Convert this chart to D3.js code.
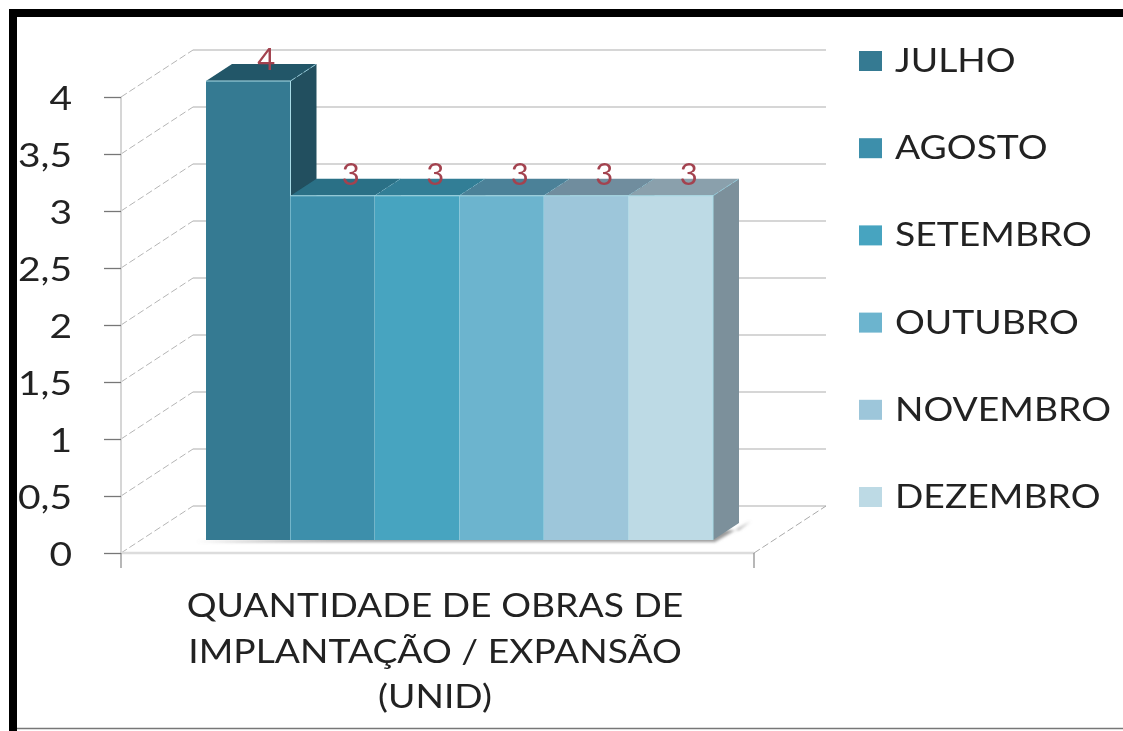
<!DOCTYPE html>
<html><head><meta charset="utf-8">
<script src="https://cdn.jsdelivr.net/npm/d3@7/dist/d3.min.js"></script>
<style>html,body{margin:0;padding:0;background:#fff}svg{display:block}text{font-family:Lato,"Open Sans",sans-serif;fill:#222}</style>
</head><body><svg id="c" width="1123" height="731"></svg>
<script>
const categories=["JULHO","AGOSTO","SETEMBRO","OUTUBRO","NOVEMBRO","DEZEMBRO"];
const values=[4,3,3,3,3,3];
const frontColors=["#357a92","#3e8fab","#46a4c0","#6cb4ce","#9dc6da","#bddae5"];
const topColors=["#225668","#2b6f86","#317e96","#4c8198","#6f8d9e","#8aa0ac"];
const sideColors=["#204f5e","#204f5e","#204f5e","#204f5e","#204f5e","#7b909b"];
const tickValues=[0,.5,1,1.5,2,2.5,3,3.5,4];
const xLabelLines=["QUANTIDADE DE OBRAS DE","IMPLANTAÇÃO / EXPANSÃO","(UNID)"];

const stretch=1.13; // the reference's lettering is horizontally stretched
const svg=d3.select("#c");
const defs=svg.append("defs");
defs.append("filter").attr("id","soft").append("feGaussianBlur").attr("stdDeviation",.55);
defs.append("filter").attr("id","sh").append("feGaussianBlur").attr("stdDeviation",1.5);

// frame
svg.append("rect").attr("x",9).attr("y",9).attr("width",1114).attr("height",8).attr("fill","#000");
svg.append("rect").attr("x",9).attr("y",9).attr("width",8).attr("height",722).attr("fill","#000");
svg.append("line").attr("x1",17).attr("x2",1123).attr("y1",728.5).attr("y2",728.5).attr("stroke","#777").attr("stroke-width",1.5);

const root=svg.append("g").attr("filter","url(#soft)");
const y=d3.scaleLinear().domain([0,4]).range([553,97]);
const depth={x:72,y:-47};
const plotL=121,plotR=754;

// walls and grid
const grid=root.append("g");
tickValues.forEach(t=>{
  grid.append("line").attr("x1",plotL+depth.x).attr("x2",plotR+depth.x)
    .attr("y1",y(t)+depth.y).attr("y2",y(t)+depth.y).attr("stroke","#c9c9c9").attr("stroke-width",1.5);
  grid.append("line").attr("x1",plotL).attr("x2",plotL+depth.x).attr("y1",y(t)).attr("y2",y(t)+depth.y)
    .attr("stroke","#b5b5b5").attr("stroke-width",1).attr("stroke-dasharray","7 3");
});
grid.append("line").attr("x1",plotR).attr("x2",plotR+depth.x).attr("y1",y(0)).attr("y2",y(0)+depth.y).attr("stroke","#aaa").attr("stroke-dasharray","7 3");
grid.append("line").attr("x1",plotL).attr("x2",plotL).attr("y1",y(4)).attr("y2",y(0)).attr("stroke","#d6d6d6").attr("stroke-width",2);
grid.append("line").attr("x1",plotL).attr("x2",plotR).attr("y1",y(0)).attr("y2",y(0)).attr("stroke","#dcdcdc").attr("stroke-width",2.5);
grid.selectAll(".xt").data([plotL,plotR]).join("line").attr("x1",d=>d).attr("x2",d=>d).attr("y1",y(0)).attr("y2",y(0)+15).attr("stroke","#888").attr("stroke-width",1.2);

// y axis labels
const ax=root.append("g").attr("transform",`translate(${plotL},0)`)
  .call(d3.axisLeft(y).tickValues(tickValues).tickSize(17)
  .tickFormat(d=>String(d).replace(".",",")));
ax.select(".domain").remove();
ax.selectAll(".tick line").attr("stroke","#777").attr("stroke-width",1.3);
ax.selectAll(".tick text").attr("font-size",33).attr("dy","0.38em").attr("x",-49/1.18)
  .attr("transform","scale(1.18,1)").style("font-family","Lato");

// bars
const barX=d3.scaleBand().domain(categories).range([206,713]);
const barY=d3.scaleLinear().domain([0,4]).range([540,81]);
const bd={x:26,y:-17};
const bars=root.append("g");
bars.append("path").attr("filter","url(#sh)").attr("fill","#999")
 .attr("d",`M${barX.range()[0]-10},${barY(0)+2}L${barX.range()[1]+2},${barY(0)+2}L${barX.range()[1]+bd.x+12},${barY(0)+bd.y-2}L${barX.range()[1]+bd.x},${barY(0)-10}Z`);
const poly=p=>"M"+p.map(a=>a.join(",")).join("L")+"Z";
const order=categories.map((c,i)=>({c,v:values[i],i}));
// sides first; the tops of the following bars then cover them
order.forEach(d=>{
  const x1=barX(d.c)+barX.bandwidth(),t=barY(d.v),b=barY(0);
  bars.append("path").attr("fill",sideColors[d.i]).attr("d",poly([[x1,t],[x1+bd.x,t+bd.y],[x1+bd.x,b+bd.y],[x1,b]]));
});
order.forEach(d=>{
  const x0=barX(d.c),x1=x0+barX.bandwidth(),t=barY(d.v);
  bars.append("path").attr("fill",topColors[d.i]).attr("d",poly([[x0,t],[x0+bd.x,t+bd.y],[x1+bd.x,t+bd.y],[x1,t]]));
  bars.append("line").attr("x1",x1).attr("x2",x1+bd.x).attr("y1",t).attr("y2",t+bd.y).attr("stroke","#8fc4d4").attr("stroke-width",1).attr("stroke-dasharray","6 2");
});
order.forEach(d=>{
  const x0=barX(d.c),w=barX.bandwidth(),t=barY(d.v),b=barY(0);
  bars.append("rect").attr("x",x0).attr("y",t).attr("width",w).attr("height",b-t).attr("fill",frontColors[d.i]);
  bars.append("line").attr("x1",x0).attr("x2",x0+w).attr("y1",t).attr("y2",t).attr("stroke","#a9dbe6");
  bars.append("line").attr("x1",x0+w).attr("x2",x0+w).attr("y1",t).attr("y2",b).attr("stroke","#a9dbe6");
});
bars.selectAll(".lab").data(order).join("text").attr("class","lab")
  .attr("x",d=>barX(d.c)+barX.bandwidth()/2+18).attr("y",d=>barY(d.v)-11)
  .attr("text-anchor","middle").attr("font-size",31).style("fill","#a3434f").text(d=>d.v);

// x label
const xl=root.append("g");
const lineYs=d3.scalePoint().domain(xLabelLines).range([617,708]);
xl.selectAll("text").data(xLabelLines).join("text")
  .attr("transform",d=>`translate(435,${lineYs(d)}) scale(${stretch},1)`)
  .attr("text-anchor","middle").attr("font-size",33).text(d=>d);

// legend
const ly=d3.scalePoint().domain(categories).range([61,497]);
const leg=root.append("g").selectAll("g").data(categories).join("g").attr("transform",d=>`translate(859,${ly(d)})`);
leg.append("rect").attr("y",-10).attr("width",23).attr("height",20).attr("fill",(d,i)=>frontColors[i]);
leg.append("text").attr("transform",`translate(36,11) scale(${stretch},1)`).attr("font-size",33).text(d=>d);
</script></body></html>
